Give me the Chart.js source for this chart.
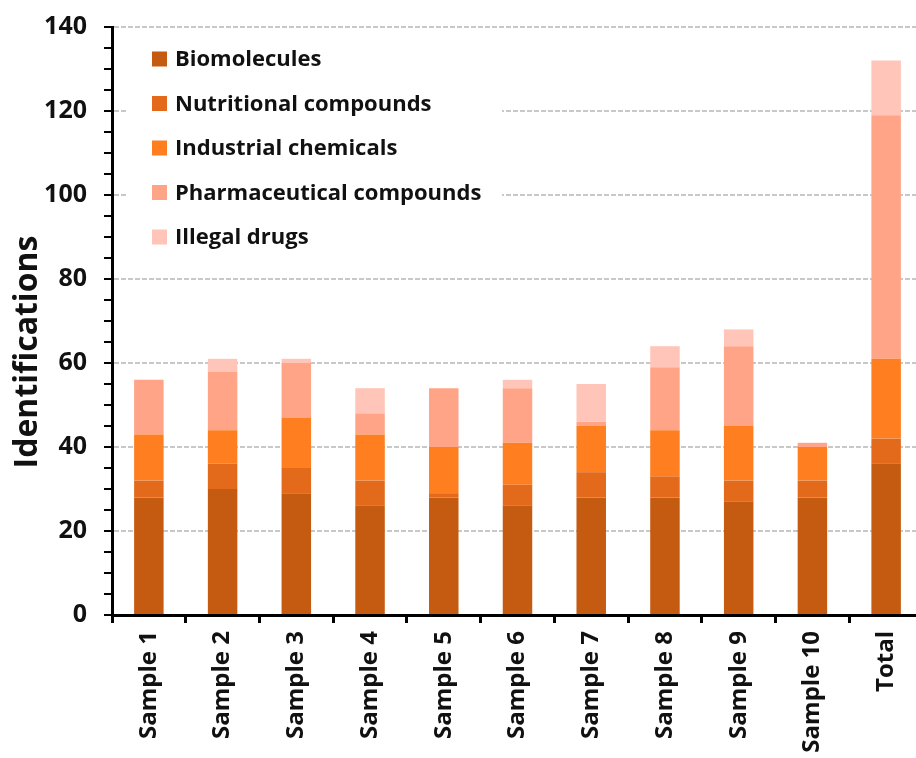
<!DOCTYPE html>
<html>
<head>
<meta charset="utf-8">
<script src="https://cdn.jsdelivr.net/npm/chart.js@4"></script>
<style>
  html, body { margin: 0; padding: 0; background: #fff; overflow: hidden; }
  #wrap { width: 926px; height: 758px; }
</style>
</head>
<body>
<div id="wrap"><canvas id="chart" width="926" height="758"></canvas></div>
<script>
"use strict";

const labels = ["Sample 1", "Sample 2", "Sample 3", "Sample 4", "Sample 5", "Sample 6", "Sample 7", "Sample 8", "Sample 9", "Sample 10", "Total"];
const biomolecules = [28, 30, 29, 26, 28, 26, 28, 28, 27, 28, 36];
const nutritional = [4, 6, 6, 6, 1, 5, 6, 5, 5, 4, 6];
const industrial = [11, 8, 12, 11, 11, 10, 11, 11, 13, 8, 19];
const pharmaceutical = [13, 14, 13, 5, 14, 13, 1, 15, 19, 1, 58];
const illegal = [0, 3, 1, 6, 0, 2, 9, 5, 4, 0, 13];
const yTicks = [0, 20, 40, 60, 80, 100, 120, 140];

const FONT = "'Open Sans', 'DejaVu Sans', sans-serif";

const series = [
  { label: "Biomolecules", data: biomolecules, color: "#c55a11" },
  { label: "Nutritional compounds", data: nutritional, color: "#e3691b" },
  { label: "Industrial chemicals", data: industrial, color: "#fe7e20" },
  { label: "Pharmaceutical compounds", data: pharmaceutical, color: "#ffa486" },
  { label: "Illegal drugs", data: illegal, color: "#ffc5b8" }
];

// legend box drawn inside the plot, over the gridlines
const legendBox = {
  id: "legendBox",
  afterDatasetsDraw(chart) {
    const ctx = chart.ctx;
    ctx.save();
    ctx.fillStyle = "#fff";
    ctx.fillRect(128, 32, 374, 226);
    ctx.font = "bold 22px " + FONT;
    ctx.textBaseline = "middle";
    chart.data.datasets.forEach((ds, i) => {
      const y = 59 + i * 44.5;
      ctx.fillStyle = ds.backgroundColor;
      ctx.fillRect(152, y - 7.5, 15, 15);
      ctx.fillStyle = "#111";
      ctx.fillText(ds.label, 175, y + 1);
    });
    // y axis title
    ctx.translate(28, 352);
    ctx.rotate(-Math.PI / 2);
    ctx.textAlign = "center";
    ctx.font = "bold 32px " + FONT;
    ctx.fillText("Identifications", 0, 0);
    ctx.restore();
  }
};

const ctx = document.getElementById("chart").getContext("2d");
new Chart(ctx, {
  type: "bar",
  data: {
    labels: labels,
    datasets: series.map(s => ({
      label: s.label,
      data: s.data,
      backgroundColor: s.color,
      borderWidth: 0,
      barPercentage: 0.4,
      categoryPercentage: 1
    }))
  },
  options: {
    responsive: false,
    animation: false,
    layout: { padding: { top: 27, right: 3, left: 0, bottom: 0 } },
    plugins: { legend: { display: false }, tooltip: { enabled: false } },
    scales: {
      x: {
        stacked: true,
        grid: { display: true, drawOnChartArea: false, offset: true, tickLength: 8, tickColor: "#000", tickWidth: 3 },
        border: { color: "#000", width: 3 },
        ticks: {
          color: "#111",
          font: { family: FONT, size: 24, weight: "bold" },
          minRotation: 90,
          maxRotation: 90,
          padding: 8,
          autoSkip: false
        },
        afterFit(scale) { scale.height = 143; }
      },
      y: {
        stacked: true,
        min: 0,
        max: 140,
        grid: {
          color: c => (c.tick && c.tick.value > 0 && yTicks.includes(c.tick.value)) ? "#c8c8c8" : "rgba(0,0,0,0)",
          lineWidth: 2,
          tickLength: 8,
          tickColor: "#000",
          tickWidth: 2
        },
        border: { color: "#000", width: 3, dash: [5, 2] },
        ticks: {
          stepSize: 5,
          autoSkip: false,
          color: "#111",
          padding: 17,
          font: { family: FONT, size: 25, weight: "bold" },
          callback: v => yTicks.includes(v) ? v : ""
        },
        afterFit(scale) {
          scale.width = 112;
          scale.paddingTop = 0;
          scale.paddingBottom = 0;
        }
      }
    }
  },
  plugins: [legendBox]
});
</script>
</body>
</html>
